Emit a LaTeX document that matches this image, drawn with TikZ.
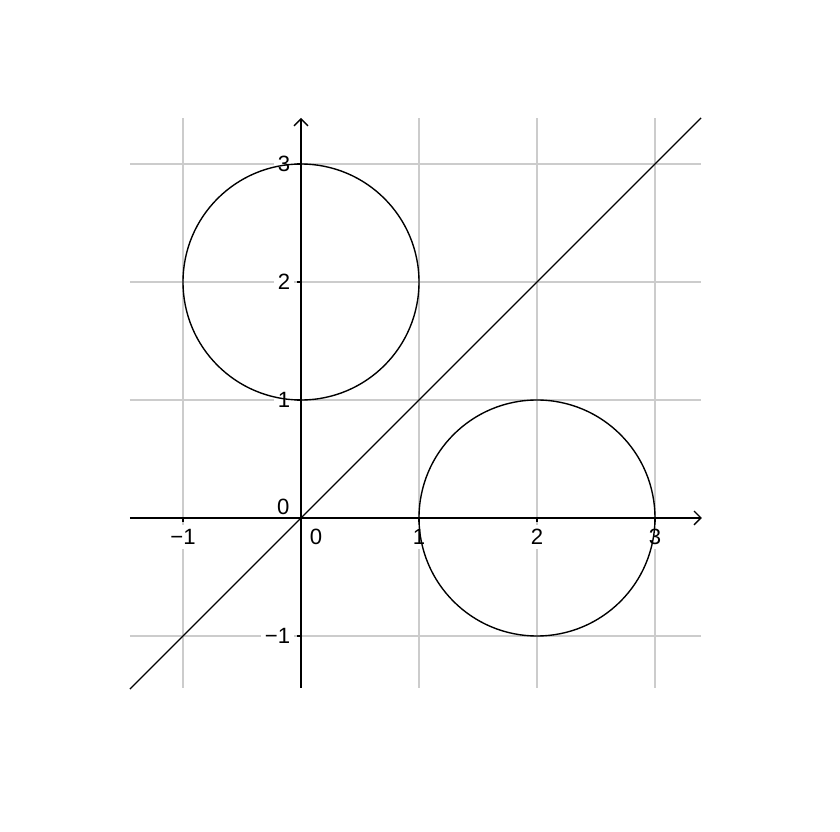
\documentclass[tikz,border=0pt]{standalone}
\usepackage{fontspec}
\setmainfont{Liberation Sans}
\usetikzlibrary{arrows.meta}
\begin{document}
\begin{tikzpicture}[x=3cm, y=3cm, >={Straight Barb[length=5pt,width=10pt]},
	gridline/.style={gray!40, line width=1.3pt},
	axisline/.style={line width=1pt},
	ticklabel/.style={fill=white, inner sep=3pt, font=\fontsize{16}{18}\selectfont}]
	\useasboundingbox (-2.551,-2.661) rectangle (4.568,4.390);
	% grid
	\foreach \k in {-1,1,2,3} {
		\draw[gridline] (\k,-1.44) -- (\k,3.39);
		\draw[gridline] (-1.45,\k) -- (3.39,\k);
	}
	% tick labels
	\foreach \k/\t/\n in {-1/−1/m1, 1/1/p1, 2/2/p2, 3/3/p3} {
		\node[ticklabel] (xlab\n) at (\k,-0.16) {\t};
		\node[ticklabel, anchor=east] (ylab\n) at (-0.055,\k) {\t};
	}
	\node[ticklabel] (xlab0) at (0.127,-0.16) {0};
	\node[ticklabel] (ylab0) at (-0.15,0.093) {0};
	% axes
	\draw[axisline, ->] (-1.45,0) -- (3.398,0);
	\draw[axisline, ->] (0,-1.44) -- (0,3.39);
	\foreach \k in {-1,1,2,3} {
		\draw[axisline] (\k,0) -- (\k,-0.035);
		\draw[axisline] (0,\k) -- (-0.035,\k);
	}
	% circles and the line y = x
	\draw[axisline] (0,2) circle[radius=1];
	\draw[axisline] (2,0) circle[radius=1];
	\draw[axisline] (-1.45,-1.45) -- (3.39,3.39);
\end{tikzpicture}
\end{document}
